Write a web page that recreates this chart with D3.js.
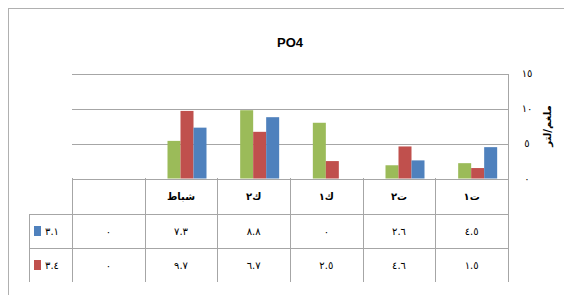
<!DOCTYPE html>
<html><head><meta charset="utf-8">
<script src="https://cdn.jsdelivr.net/npm/d3@7"></script>
<style>body{margin:0;background:#fff}svg{display:block}</style>
</head><body>
<script>
const categories = ["ت١","ت٢","ك١","ك٢","شباط",""];
const seriesNames = ["٣.٢","٣.٤","٣.١"];
const greenValues = [2.2,1.9,8.0,9.8,5.4,0];
const redValues = [1.5,4.6,2.5,6.7,9.7,0];
const blueValues = [4.5,2.6,0,8.8,7.3,0];
const tableRows = [
  {name:"٣.١", values:["٤.٥","٢.٦","٠","٨.٨","٧.٣","٠"], color:"#4F81BD"},
  {name:"٣.٤", values:["١.٥","٤.٦","٢.٥","٦.٧","٩.٧","٠"], color:"#C0504D"}
];
const yTicks = [0,5,10,15];
const yTickLabels = ["٠","٥","١٠","١٥"];
const title = "PO4";
const yLabel = "ملغم/لتر";

const series = [
  {name:seriesNames[0], values:greenValues, color:"#9BBB59"},
  {name:seriesNames[1], values:redValues, color:"#C0504D"},
  {name:seriesNames[2], values:blueValues, color:"#4F81BD"}
];

const W=564,H=295;
const svg=d3.select("body").append("svg").attr("width",W).attr("height",H);
const grid="#a6a6a6";
const arFont="'DejaVu Sans', sans-serif";

svg.append("rect").attr("x",8.5).attr("y",8.5).attr("width",600).attr("height",320)
  .attr("fill","#fff").attr("stroke","#b0b0b0");

svg.append("text").attr("x",290).attr("y",47).attr("text-anchor","middle")
  .attr("font-family","'Liberation Sans', Arial, sans-serif").attr("font-weight","bold")
  .attr("font-size",13).attr("fill","#000").text(title);

const x=d3.scaleBand().domain(categories).range([508,72]);
const y=d3.scaleLinear().domain([0,15]).range([178.5,74]);
const barW=13, shift=6;
const x1=d3.scaleBand().domain(series.map(s=>s.name)).range([0,barW*3]);

// gridlines
svg.append("g").selectAll("line").data(yTicks).join("line")
  .attr("x1",72).attr("x2",508).attr("y1",d=>Math.round(y(d))+0.5).attr("y2",d=>Math.round(y(d))+0.5)
  .attr("stroke",grid).attr("stroke-width",1);

// right axis line
svg.append("line").attr("x1",508.5).attr("x2",508.5).attr("y1",Math.round(y(15))).attr("y2",282)
  .attr("stroke",grid);

// tick labels
svg.append("g").selectAll("text").data(yTicks).join("text")
  .attr("x",527).attr("y",d=>y(d)+3).attr("text-anchor","middle")
  .attr("font-family",arFont).attr("font-size",10).attr("fill","#000")
  .text((d,i)=>yTickLabels[i]);

// y label
svg.append("text").attr("transform","translate(551,126) rotate(-90)")
  .attr("text-anchor","middle").attr("font-family",arFont).attr("font-size",10)
  .attr("font-weight","bold").attr("fill","#000").text(yLabel);

// bars
series.forEach(s=>{
  svg.append("g").selectAll("rect").data(categories.map((c,i)=>({c,v:s.values[i]})).filter(d=>d.v>0))
    .join("rect")
    .attr("x",d=>x(d.c)+(x.bandwidth()-barW*3)/2+shift+x1(s.name))
    .attr("width",x1.bandwidth())
    .attr("y",d=>y(d.v)).attr("height",d=>y(0)-y(d.v))
    .attr("fill",s.color);
});

// table
const rowTops=[178,214,248,282];
const tg=svg.append("g");
// horizontal lines
[214,248].forEach(yy=>tg.append("line").attr("x1",29).attr("x2",508).attr("y1",yy+0.5).attr("y2",yy+0.5).attr("stroke",grid));
// vertical lines
const bounds=categories.map(c=>x(c)).concat([508]);
bounds.forEach(bx=>tg.append("line").attr("x1",Math.round(bx)+0.5).attr("x2",Math.round(bx)+0.5)
  .attr("y1",178).attr("y2",282).attr("stroke",grid));
tg.append("line").attr("x1",29.5).attr("x2",29.5).attr("y1",214).attr("y2",282).attr("stroke",grid);

// header labels
tg.selectAll("text.h").data(categories).join("text").attr("class","h")
  .attr("x",d=>x(d)+x.bandwidth()/2).attr("y",200).attr("text-anchor","middle")
  .attr("font-family",arFont).attr("font-size",10).attr("font-weight","bold").attr("fill","#000")
  .text(d=>d);

tableRows.forEach((r,ri)=>{
  const cy=(rowTops[ri+1]+rowTops[ri+2])/2;
  tg.append("rect").attr("x",34).attr("y",cy-5).attr("width",7).attr("height",10).attr("fill",r.color);
  tg.append("text").attr("x",52).attr("y",cy+4).attr("text-anchor","middle")
    .attr("font-family",arFont).attr("font-size",10).attr("fill","#000").text(r.name);
  tg.selectAll(null).data(categories).join("text")
    .attr("x",d=>x(d)+x.bandwidth()/2).attr("y",cy+4).attr("text-anchor","middle")
    .attr("font-family",arFont).attr("font-size",10).attr("fill","#000")
    .text((d,i)=>r.values[i]);
});
</script>
</body></html>
